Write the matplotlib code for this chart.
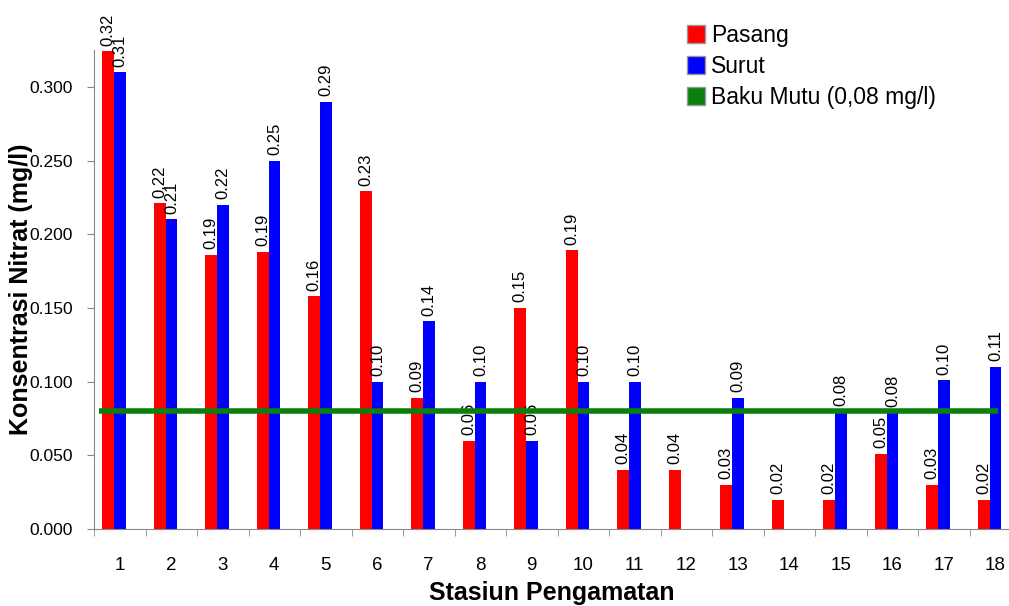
import matplotlib
matplotlib.use("Agg")
import matplotlib.pyplot as plt
from matplotlib.lines import Line2D
import numpy as np

plt.rcParams['font.family'] = ['Liberation Sans', 'DejaVu Sans']

# Konsentrasi nitrat (mg/l) per stasiun
stasiun = list(range(1, 19))
pasang = [0.324, 0.221, 0.186, 0.188, 0.158, 0.229, 0.089, 0.060, 0.150,
          0.189, 0.040, 0.040, 0.030, 0.020, 0.020, 0.051, 0.030, 0.020]
surut = [0.310, 0.210, 0.220, 0.250, 0.290, 0.100, 0.141, 0.100, 0.060,
         0.100, 0.100, None, 0.089, None, 0.080, 0.079, 0.101, 0.110]
baku_mutu = 0.08

x = np.array(stasiun, dtype=float)
p = np.array(pasang, dtype=float)
s = np.array([np.nan if v is None else v for v in surut], dtype=float)

fig = plt.figure(figsize=(10.09, 6.06), dpi=100)
ax = fig.add_axes([94 / 1009, 77 / 606, 915 / 1009, 479 / 606])

w = 0.23
shift = -0.11
ax.bar(x + shift - w / 2, p, w, color='#ff0000', zorder=2)
ax.bar(x + shift + w / 2, np.nan_to_num(s), w, color='#0000ff', zorder=2)

# garis baku mutu
ax.hlines(baku_mutu, 0.6, 18.05, color='#0b7f0b', linewidth=4, zorder=4)

for xs, vals in ((x + shift - w / 2, p), (x + shift + w / 2, s)):
    for xi, v in zip(xs, vals):
        if np.isnan(v):
            continue
        ax.annotate(f"{v:.2f}", (xi, v), xytext=(0, 4), textcoords='offset points',
                    rotation=90, ha='center', va='bottom', fontsize=12, zorder=3)

ax.set_yticks(np.arange(0, 0.301, 0.05))
ax.set_yticklabels([f"{t:.3f}" for t in np.arange(0, 0.301, 0.05)], fontsize=12.5)
ax.set_xticks(x)
ax.set_xticklabels([str(i) for i in stasiun], fontsize=13.5)
ax.set_xticks(np.arange(0.5, 18.0, 1), minor=True)
ax.tick_params(axis='x', which='major', length=0, pad=20)
ax.tick_params(axis='x', which='minor', length=5, color='#888888', direction='out')
ax.tick_params(axis='y', length=5, color='#888888', direction='out', pad=10)
ax.set_xlim(0.5, 0.5 + 915 / 51.5)
ax.set_ylim(0, 0.325)

for side in ('top', 'right'):
    ax.spines[side].set_visible(False)
for side in ('left', 'bottom'):
    ax.spines[side].set_color('#888888')

ax.set_ylabel("Konsentrasi Nitrat (mg/l)", fontsize=18, fontweight='bold')
ax.yaxis.set_label_coords(-0.067, 0.5)
ax.set_xlabel("Stasiun Pengamatan", fontsize=18, fontweight='bold', labelpad=5)

handles = [
    Line2D([], [], marker='s', linestyle='none', markersize=12.5, markerfacecolor='#ff0000', markeredgecolor='#999999'),
    Line2D([], [], marker='s', linestyle='none', markersize=12.5, markerfacecolor='#0000ff', markeredgecolor='#999999'),
    Line2D([], [], marker='s', linestyle='none', markersize=12.5, markerfacecolor='#0b7f0b', markeredgecolor='#999999'),
]
fig.legend(handles, ["Pasang", "Surut", "Baku Mutu (0,08 mg/l)"], loc='upper left',
           bbox_to_anchor=(677 / 1009, 1 - 15 / 606), frameon=False, fontsize=16.5,
           handlelength=0.9, handletextpad=0.2, labelspacing=0.35, borderaxespad=0)

fig.savefig("out.png", dpi=100)
